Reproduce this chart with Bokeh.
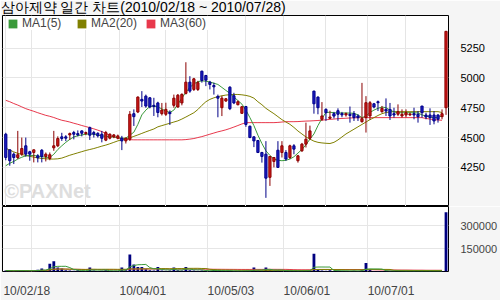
import pandas as pd
from bokeh.plotting import figure
from bokeh.layouts import column
from bokeh.models import (ColumnDataSource, FixedTicker, Legend, LegendItem, Label,
                          Range1d, Grid, BasicTickFormatter)
from bokeh.embed import file_html
from bokeh.resources import INLINE

title_text = "삼아제약 일간 차트(2010/02/18 ~ 2010/07/28)"
holidays = ["2010-03-01", "2010-05-05", "2010-05-21", "2010-06-02"]
dates = [d for d in pd.bdate_range("2010-02-18", "2010-07-28")
         if d.strftime("%Y-%m-%d") not in holidays]
x_labels = ["10/02/18", "10/04/01", "10/05/03", "10/06/01", "10/07/01"]
price_ticks = [4250, 4500, 4750, 5000, 5250]
volume_ticks = [150000, 300000]

open_ = [4528,4397,4361,4333,4361,4431,4381,4375,4347,4394,
         4342,4325,4414,4431,4506,4506,4522,4542,4533,4556,
         4533,4583,4542,4535,4528,4478,4495,4506,4495,4495,
         4472,4486,4700,4714,4820,4847,4833,4770,4790,4700,
         4695,4712,4770,4756,4790,4870,4964,4903,4903,5056,
         5020,4964,4936,4845,4750,4806,4922,4850,4775,4703,
         4760,4595,4506,4475,4375,4361,4167,4300,4394,4375,
         4375,4333,4431,4306,4389,4445,4495,4889,4839,4653,
         4736,4661,4700,4725,4700,4690,4695,4700,4681,4633,
         4667,4681,4783,4800,4717,4736,4736,4700,4695,4681,
         4689,4690,4700,4695,4764,4689,4689,4689,4689,4675,
         4750]
high = [4540,4400,4375,4556,4500,4500,4389,4400,4361,4403,
        4375,4375,4556,4510,4540,4520,4542,4556,4560,4560,
        4550,4592,4556,4545,4556,4556,4535,4530,4525,4514,
        4500,4722,4736,4845,4889,4860,4840,4833,4800,4790,
        4792,4728,4860,4865,4870,5131,5014,5000,4975,5060,
        5025,4975,4960,4860,4850,4830,4930,4875,4810,4765,
        4765,4600,4510,4480,4380,4470,4345,4335,4470,4470,
        4395,4440,4445,4355,4455,4625,4600,4892,4845,4797,
        4745,4725,4715,4745,4715,4710,4760,4722,4695,4958,
        4847,4806,4790,4810,4765,4828,4790,4750,4778,4736,
        4736,4710,4750,4722,4764,4708,4745,4722,4695,4736,
        5390]
low = [4310,4264,4278,4320,4347,4340,4306,4292,4292,4292,
       4300,4310,4389,4420,4472,4470,4480,4485,4510,4510,
       4520,4480,4500,4500,4460,4470,4485,4495,4485,4395,
       4450,4472,4597,4705,4756,4750,4745,4681,4670,4685,
       4681,4606,4750,4750,4770,4861,4875,4890,4890,4960,
       4931,4903,4860,4670,4680,4800,4730,4780,4770,4700,
       4590,4495,4420,4370,4290,3995,4095,4250,4245,4333,
       4305,4320,4360,4290,4380,4417,4480,4700,4695,4640,
       4640,4655,4660,4640,4670,4675,4625,4639,4639,4625,
       4542,4650,4745,4722,4708,4681,4647,4667,4680,4667,
       4670,4680,4653,4625,4667,4653,4606,4611,4625,4653,
       4690]
close = [4333,4306,4333,4356,4408,4361,4361,4397,4330,4342,
         4361,4356,4431,4492,4492,4495,4533,4528,4522,4536,
         4542,4520,4528,4515,4494,4542,4528,4522,4514,4472,
         4495,4695,4675,4839,4806,4764,4756,4760,4710,4730,
         4736,4700,4830,4855,4862,4964,4889,4992,4960,4978,
         4981,4945,4925,4830,4830,4825,4742,4790,4800,4758,
         4610,4500,4472,4375,4342,4160,4342,4333,4250,4431,
         4320,4431,4403,4347,4445,4486,4556,4783,4750,4681,
         4708,4672,4680,4695,4690,4700,4685,4667,4667,4658,
         4792,4792,4756,4792,4745,4722,4681,4689,4717,4695,
         4708,4697,4689,4675,4708,4672,4667,4639,4653,4700,
         5390]
volume = [6000,5000,4000,7000,6000,5000,4000,5000,12000,20000,
          6000,50000,67000,26000,20000,8000,6000,5000,8000,4000,
          4000,26000,6000,4000,5000,8000,4000,3000,4000,26000,
          8000,111000,46000,30000,30000,15000,8000,6000,30000,6000,
          5000,6000,26000,8000,6000,30000,8000,6000,5000,6000,
          5000,4000,12000,5000,4000,3000,5000,4000,3000,3000,
          5000,6000,26000,6000,5000,26000,8000,5000,6000,5000,
          4000,5000,4000,3000,5000,6000,8000,117000,10000,6000,
          5000,8000,4000,5000,3000,3000,4000,5000,3000,8000,
          56000,12000,4000,3000,4000,5000,3000,3000,2000,2000,
          3000,2000,3000,2000,3000,2000,3000,2000,2000,3000,
          389000]
ma5 = [4264,4285,4300,4320,4335,4347,4350,4350,4345,4340,
       4335,4333,4360,4400,4431,4460,4485,4505,4515,4522,
       4528,4530,4528,4520,4514,4510,4506,4505,4500,4495,
       4495,4520,4545,4610,4690,4730,4760,4765,4756,4740,
       4722,4710,4730,4780,4830,4880,4920,4950,4968,4975,
       4972,4966,4955,4945,4920,4895,4870,4840,4810,4780,
       4730,4667,4600,4520,4450,4389,4350,4320,4310,4306,
       4310,4320,4339,4370,4400,4440,4487,4530,4600,4660,
       4710,4712,4708,4706,4706,4706,4705,4703,4690,4667,
       4680,4710,4730,4745,4756,4750,4730,4715,4708,4708,
       4708,4708,4708,4706,4690,4680,4672,4667,4670,4681]
ma20 = [4411,4395,4380,4368,4358,4350,4343,4336,4330,4325,
        4322,4320,4320,4322,4328,4340,4352,4362,4372,4382,
        4392,4400,4408,4418,4428,4437,4448,4460,4472,4482,
        4492,4498,4510,4522,4535,4548,4560,4572,4590,4600,
        4610,4620,4630,4640,4655,4672,4690,4708,4735,4770,
        4800,4820,4833,4843,4850,4856,4859,4861,4861,4858,
        4853,4845,4830,4800,4775,4745,4722,4700,4675,4650,
        4630,4611,4585,4555,4530,4505,4487,4470,4460,4455,
        4452,4450,4460,4480,4505,4530,4550,4570,4590,4610,
        4630,4650,4667,4685,4700,4710,4715,4717,4717,4717,
        4717,4717,4717,4717,4717,4717,4717,4717,4717,4710]
ma60 = [4812,4800,4785,4772,4757,4742,4731,4720,4708,4697,
        4686,4678,4668,4656,4645,4638,4630,4620,4611,4601,
        4592,4583,4573,4562,4550,4535,4518,4505,4495,4489,
        4485,4482,4481,4481,4481,4481,4481,4481,4481,4481,
        4481,4481,4481,4481,4481,4483,4487,4492,4500,4508,
        4518,4528,4538,4548,4556,4565,4576,4588,4601,4614,
        4625,4625,4625,4625,4625,4625,4625,4625,4627,4630,
        4633,4633,4633,4634,4636,4638,4639,4641,4643,4646,
        4649,4652,4655,4658,4660,4662,4664,4665,4666,4667,
        4667,4667,4667,4667,4667,4667,4667,4667,4667,4667,
        4667,4667,4667,4667,4667,4660,4655,4650,4647,4645]

GREEN = "#3a9a3a"
OLIVE = "#808000"
RED_MA = "#e8384c"
GRID = "#e6e6e6"
BG = "#f5f5f5"
FONT = "Liberation Sans"

n = len(dates)
xs = list(range(n))
month_starts = [i for i in range(1, n) if dates[i].month != dates[i - 1].month]
grid_x = [i - 0.5 for i in month_starts]
date_str = [d.strftime("%y/%m/%d") for d in dates]
label_idx = [date_str.index(s) for s in x_labels]
label_ticks = [i + 5.25 for i in label_idx]

up = [c >= o for o, c in zip(open_, close)]
src = ColumnDataSource(dict(
    x=xs, open=open_, close=close, high=high, low=low, volume=volume,
    top=[max(o, c) for o, c in zip(open_, close)],
    bottom=[min(o, c) for o, c in zip(open_, close)],
    fill=["#d01818" if u else "#1c1cc4" for u in up],
    edge=["#8a0000" if u else "#000088" for u in up],
))
ma_src = ColumnDataSource(dict(x=xs[:len(ma5)], ma5=ma5, ma20=ma20, ma60=ma60))

vs = pd.Series(volume[:len(ma5)], dtype=float)
vma_src = ColumnDataSource(dict(
    x=xs[:len(ma5)],
    v5=vs.rolling(5, min_periods=1).mean().tolist(),
    v20=vs.rolling(20, min_periods=1).mean().tolist(),
    v60=vs.rolling(60, min_periods=1).mean().tolist(),
))

X0, X1 = -0.82, 110.62
Y0, Y1 = 3922.5, 5522.5
x_range = Range1d(X0, X1)

# ---- price panel (title in its top border)
p = figure(width=500, height=206, x_range=x_range, y_range=Range1d(Y0, Y1),
           toolbar_location=None, output_backend="svg", y_axis_location="right",
           x_axis_location=None, min_border_left=2, min_border_right=52,
           min_border_top=14, min_border_bottom=0, background_fill_color="white",
           border_fill_color=BG, outline_line_color="black", outline_line_width=1,
           title=title_text)
p.title.text_font = FONT
p.title.text_font_size = "14px"
p.title.text_font_style = "normal"
p.title.align = "left"
p.title.vertical_align = "top"
p.title.offset = -2
p.title.standoff = -3
p.title.text_color = "black"

p.ygrid.ticker = FixedTicker(ticks=price_ticks)
p.ygrid.grid_line_color = GRID
p.add_layout(Grid(dimension=0, ticker=FixedTicker(ticks=grid_x), grid_line_color=GRID))
ya = p.yaxis[0]
ya.ticker = FixedTicker(ticks=price_ticks)
ya.axis_line_color = None
ya.major_tick_line_color = None
ya.minor_tick_line_color = None
ya.major_label_standoff = 6
ya.major_label_text_font = FONT
ya.major_label_text_font_size = "11px"
ya.major_label_text_color = "black"

p.add_layout(Label(x=-0.4, y=3960, text="©PAXNet", text_font=FONT,
                   text_font_size="20px", text_font_style="bold",
                   text_color="#dedede", level="underlay"))

p.line("x", "ma60", source=ma_src, color=RED_MA, line_width=1)
p.line("x", "ma20", source=ma_src, color=OLIVE, line_width=1)
p.line("x", "ma5", source=ma_src, color=GREEN, line_width=1)
p.segment(x0="x", y0="low", x1="x", y1="high", source=src, line_color="edge", line_width=1)
p.vbar(x="x", width=0.55, top="top", bottom="bottom", source=src,
       fill_color="fill", line_color="edge", line_width=1)

# zero-area quads at each MA's first point serve as legend swatches
items = []
for name, col, series in [("MA1(5)", GREEN, ma5), ("MA2(20)", OLIVE, ma20),
                          ("MA3(60)", RED_MA, ma60)]:
    r = p.quad(left=[xs[0]], right=[xs[0]], top=[series[0]], bottom=[series[0]],
               fill_color=col, line_color=None)
    items.append(LegendItem(label=name, renderers=[r]))
legend = Legend(items=items, orientation="horizontal", location=(5, 176), margin=0,
                padding=1, spacing=3, glyph_width=11, glyph_height=11, label_height=10,
                label_width=51, label_standoff=4, label_text_font=FONT,
                label_text_font_size="12px", background_fill_color="white",
                background_fill_alpha=1.0, border_line_color=None)
p.add_layout(legend)

# ---- volume panel
v = figure(width=500, height=94, x_range=x_range, y_range=Range1d(0, 426000),
           toolbar_location=None, output_backend="svg", y_axis_location="right",
           min_border_left=2, min_border_right=52, min_border_top=0, min_border_bottom=24,
           background_fill_color="white", border_fill_color=BG,
           outline_line_color="black", outline_line_width=1)
v.ygrid.ticker = FixedTicker(ticks=volume_ticks)
v.ygrid.grid_line_color = GRID
v.xgrid.ticker = FixedTicker(ticks=grid_x)
v.xgrid.grid_line_color = GRID
vy = v.yaxis[0]
vy.ticker = FixedTicker(ticks=volume_ticks)
vy.formatter = BasicTickFormatter(use_scientific=False)
vy.axis_line_color = None
vy.major_tick_line_color = None
vy.minor_tick_line_color = None
vy.major_label_standoff = 6
vy.major_label_text_font = FONT
vy.major_label_text_font_size = "11px"
vx = v.xaxis[0]
vx.ticker = FixedTicker(ticks=label_ticks)
vx.major_label_overrides = {t: s for t, s in zip(label_ticks, x_labels)}
vx.axis_line_color = None
vx.major_tick_line_color = None
vx.minor_tick_line_color = None
vx.major_label_standoff = 6
vx.major_label_text_font = FONT
vx.major_label_text_font_size = "12px"

v.vbar(x="x", width=0.7, top="volume", bottom=0, source=src,
       fill_color="#000080", line_color=None)
v.line("x", "v60", source=vma_src, color=RED_MA, line_width=1)
v.line("x", "v20", source=vma_src, color=OLIVE, line_width=1)
v.line("x", "v5", source=vma_src, color=GREEN, line_width=1)

layout = column(p, v, spacing=0)
open("out.html", "w").write(file_html(layout, INLINE))
